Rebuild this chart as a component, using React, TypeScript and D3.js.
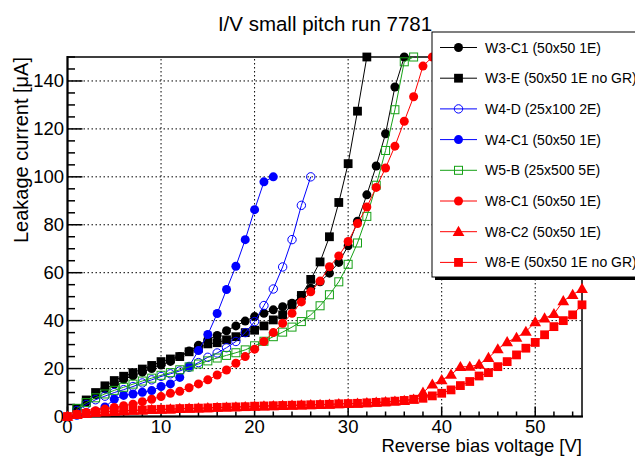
import React from 'react';
import * as d3 from 'd3';

// bias voltage steps [V], shared by every curve (null = not measured)
const biasVoltage = [
  0, 1, 2, 3, 4, 5, 6, 7, 8, 9, 10, 11, 12, 13, 14, 15, 16, 17, 18, 19, 20,
  21, 22, 23, 24, 25, 26, 27, 28, 29, 30, 31, 32, 33, 34, 35, 36, 37, 38, 39, 40,
  41, 42, 43, 44, 45, 46, 47, 48, 49, 50, 51, 52, 53, 54, 55,
];

// leakage current [uA]
const w3c1 = [
  null, 3, 6, 9, 11.5, 13.5, 15.5, 17, 18.5, 20, 21.5, 23, 25, 27.3, 29.7, 32, 33.8, 35.8, 37.8, 39.8, 41.7,
  43.1, 44.5, 45.8, 47.3, 50.5, 53.5, 56.2, 59.8, 64.3, 71.2, 81.5, 92.5, 104.5, 118, 137.5, 150,
];
const w3e = [
  null, 3.4, 6.9, 10, 12.8, 15, 16.8, 18.3, 19.8, 21.3, 22.9, 24, 25, 27, 28.5, 30.3, 30.8, 32, 33.3, 35, 36,
  37.8, 40.3, 42.4, 46.6, 50.5, 57.2, 64.5, 75, 89.3, 105.5, 127.4, 150,
];
const w4d = [
  null, 2.5, 5, 7, 8.5, 10, 11.2, 12.5, 14, 15.3, 16.7, 17.8, 19, 20.5, 22.5, 24.7, 26.5, 28.7, 31.3, 35, 39.6,
  46.3, 53.2, 62.4, 73.8, 88.1, 100,
];
const w4c1 = [
  null, 0.5, 1.2, 2.2, 4, 7.2, 8.8, 9.4, 10.1, 10.8, 12.5, 13.6, 16.3, 21, 27.5, 34.2, 43, 53, 62.7, 73.8, 86.3,
  97.9, 100,
];
const w5b = [
  null, 3.4, 5.8, 7.8, 9.4, 10.9, 12.2, 13.5, 14.8, 16, 17.2, 18.3, 19.5, 20.7, 21.9, 23.2, 24.4, 25.5, 26.6, 27.8, 29.5,
  31.4, 33.3, 35.2, 37.3, 39.6, 42.4, 46.2, 50.8, 56.2, 63.5, 72.4, 83.5, 96.5, 111, 128, 148, 150,
];
const w8c1 = [
  0, 0.9, 1.7, 2.4, 3.1, 3.8, 4.5, 5.1, 6.2, 7.2, 8.3, 9.7, 10.5, 12, 13.6, 15.3, 17.3, 19.4, 22.2, 25, 28.1,
  31.3, 35, 38.9, 43.1, 47.8, 52, 56.5, 62.5, 67, 73, 80.5, 87.4, 95.6, 103.7, 112.8, 123.2, 133.4, 146.2, 150,
];
const w8c2 = [
  0, 0.7, 1.2, 1.6, 1.9, 2.1, 2.3, 2.5, 2.6, 2.8, 2.9, 3, 3.2, 3.3, 3.4, 3.5, 3.7, 3.8, 3.9, 4, 4.2,
  4.3, 4.4, 4.5, 4.6, 4.7, 4.8, 4.9, 5, 5.2, 5.3, 5.4, 5.6, 5.8, 6, 6.3, 6.6, 7.1, 10, 13.4, 15.2,
  17.5, 20.7, 20.8, 21.7, 24.5, 28.1, 31.1, 32.9, 35.4, 39.4, 41, 42.8, 48.2, 50.8, 53.3,
];
const w8e = [
  0, 0.8, 1.3, 1.7, 2, 2.2, 2.4, 2.6, 2.7, 2.9, 3, 3.1, 3.3, 3.4, 3.5, 3.6, 3.8, 3.9, 4, 4.1, 4.3,
  4.4, 4.5, 4.6, 4.7, 4.8, 4.9, 5, 5.1, 5.3, 5.4, 5.5, 5.7, 5.9, 6.1, 6.4, 6.7, 7.2, 7.6, 8.6, 9.7,
  11.1, 12.9, 14.6, 16.9, 18.3, 20.8, 22.9, 25.7, 28.5, 30.9, 34.1, 37.5, 40, 42.4, 46.6,
];

const seriesNames = [
  'W3-C1 (50x50 1E)',
  'W3-E (50x50 1E no GR)',
  'W4-D (25x100 2E)',
  'W4-C1 (50x50 1E)',
  'W5-B (25x500 5E)',
  'W8-C1 (50x50 1E)',
  'W8-C2 (50x50 1E)',
  'W8-E (50x50 1E no GR)',
];
const seriesValues = [w3c1, w3e, w4d, w4c1, w5b, w8c1, w8c2, w8e];
const seriesColors = ['#000000', '#000000', '#0000ff', '#0000ff', '#16a116', '#ff0000', '#ff0000', '#ff0000'];
const seriesMarkers = ['circle', 'square', 'opencircle', 'circle', 'opensquare', 'circle', 'triangle', 'square'];

const xTicks = [0, 10, 20, 30, 40, 50];
const yTicks = [0, 20, 40, 60, 80, 100, 120, 140];

const W = 635;
const H = 456;
const FONT = '"Liberation Sans", Arial, Helvetica, sans-serif';

const xScale = d3.scaleLinear().domain([0, 55]).range([67.5, 582]);
const yScale = d3.scaleLinear().domain([0, 150]).range([416.5, 57]);

function Marker({ type, x, y, color }: { type: string; x: number; y: number; color: string }) {
  if (type === 'circle') return <circle cx={x} cy={y} r={4.5} fill={color} />;
  if (type === 'opencircle') return <circle cx={x} cy={y} r={4.2} fill="none" stroke={color} strokeWidth={1} />;
  if (type === 'square') return <rect x={x - 4.4} y={y - 4.4} width={8.8} height={8.8} fill={color} />;
  if (type === 'opensquare')
    return <rect x={x - 4} y={y - 4} width={8} height={8} fill="none" stroke={color} strokeWidth={1} />;
  const p = d3.symbol(d3.symbolTriangle, 60)();
  return <path d={p || ''} transform={`translate(${x},${y + 0.8})`} fill={color} />;
}

export default function App() {
  const [x0, x1] = xScale.range();
  const [y0, y1] = yScale.range();

  const line = d3
    .line<[number, number]>()
    .x((d) => xScale(d[0]))
    .y((d) => yScale(d[1]));

  const pts = (vals: (number | null)[]) =>
    vals
      .map((v, i) => [biasVoltage[i], v] as [number, number | null])
      .filter((d) => d[1] !== null) as [number, number][];

  const xMinor = d3.range(0, 56, 2);
  const yMinor = d3.range(0, 151, 5);

  const legX = 432;
  const legY = 32;
  const legW = 215;
  const legH = 245;
  const legStep = 30.7;

  return (
    <svg
      width={W}
      height={H}
      style={{ position: 'absolute', left: 0, top: 0, background: '#fff', fontFamily: FONT }}
    >
      <rect x={0} y={0} width={W} height={H} fill="#fff" />

      {/* grid */}
      <g stroke="#000" strokeWidth={1} strokeDasharray="1.5,2.5">
        {xTicks.filter((t) => t > 0).map((t) => (
          <line key={`gx${t}`} x1={xScale(t)} x2={xScale(t)} y1={y0} y2={y1} />
        ))}
        {yTicks.filter((t) => t > 0).map((t) => (
          <line key={`gy${t}`} x1={x0} x2={x1} y1={yScale(t)} y2={yScale(t)} />
        ))}
      </g>

      {/* ticks */}
      <g stroke="#000" strokeWidth={1.5}>
        {xMinor.map((t) => (
          <line key={`tx${t}`} x1={xScale(t)} x2={xScale(t)} y1={y0} y2={y0 - (t % 10 === 0 ? 10 : 5)} />
        ))}
        {yMinor.map((t) => (
          <line key={`ty${t}`} x1={x0} x2={x0 + (t % 20 === 0 ? 15 : 7.5)} y1={yScale(t)} y2={yScale(t)} />
        ))}
      </g>

      {/* frame */}
      <rect x={x0} y={y1} width={x1 - x0} height={y0 - y1} fill="none" stroke="#000" strokeWidth={1.5} />
      <line x1={x0} x2={x0} y1={y0 + 1} y2={y1 - 1} stroke="#000" strokeWidth={2} />
      <line x1={x0 - 1} x2={x1 + 1} y1={y0} y2={y0} stroke="#000" strokeWidth={2} />

      {/* tick labels */}
      <g fontSize={18.5} fill="#000">
        {xTicks.map((t) => (
          <text key={`lx${t}`} x={xScale(t)} y={433} textAnchor="middle">
            {t}
          </text>
        ))}
        {yTicks.map((t) => (
          <text key={`ly${t}`} x={64} y={yScale(t) + 6.5} textAnchor="end">
            {t}
          </text>
        ))}
      </g>

      {/* axis titles */}
      <text x={582} y={452} fontSize={18.5} textAnchor="end">
        Reverse bias voltage [V]
      </text>
      <text transform={`translate(28,57) rotate(-90)`} fontSize={20} textAnchor="end">
        Leakage current [μA]
      </text>

      {/* title */}
      <text x={325} y={31} fontSize={20.5} textAnchor="middle">
        I/V small pitch run 7781
      </text>

      {/* curves */}
      {seriesValues.map((vals, si) => {
        const p = pts(vals);
        return (
          <g key={`s${si}`}>
            <path d={line(p) || ''} fill="none" stroke={seriesColors[si]} strokeWidth={1} />
            {p.map((d, i) => (
              <Marker key={i} type={seriesMarkers[si]} x={xScale(d[0])} y={yScale(d[1])} color={seriesColors[si]} />
            ))}
          </g>
        );
      })}

      {/* legend */}
      <rect x={legX + 3} y={legY + 3} width={legW} height={legH} fill="#000" />
      <rect x={legX} y={legY} width={legW} height={legH} fill="#fff" stroke="#000" strokeWidth={1} />
      {seriesNames.map((name, i) => {
        const cy = legY + 15.5 + i * legStep;
        return (
          <g key={`l${i}`}>
            <line x1={440} x2={477} y1={cy} y2={cy} stroke={seriesColors[i]} strokeWidth={1} />
            <Marker type={seriesMarkers[i]} x={458.5} y={cy} color={seriesColors[i]} />
            <text x={485} y={cy + 5} fontSize={14}>
              {name}
            </text>
          </g>
        );
      })}
    </svg>
  );
}
